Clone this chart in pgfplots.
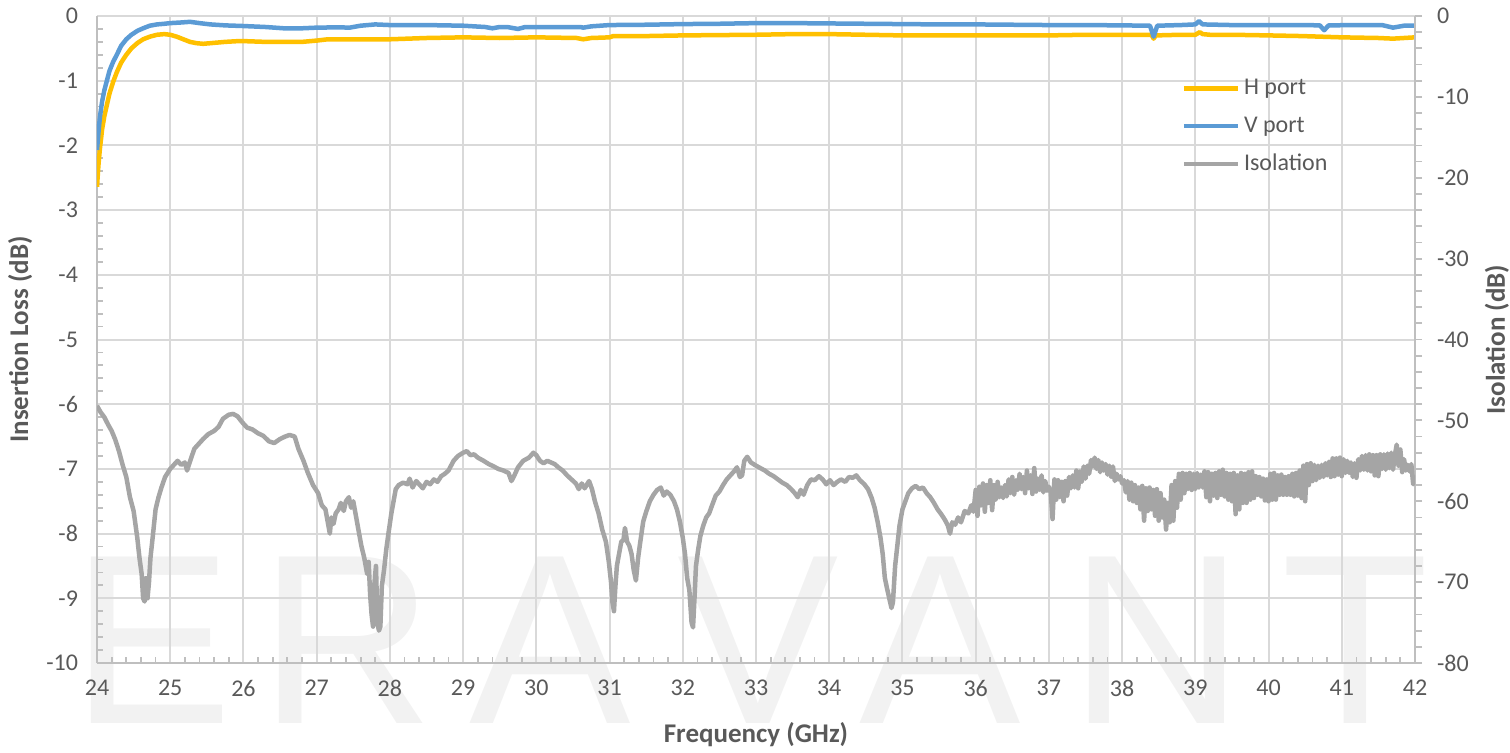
\documentclass[border=0pt]{standalone}
\usepackage{fontspec}
\setmainfont{Carlito}
\newfontfamily\wmfont{Liberation Sans}
\usepackage{pgfplots}
\pgfplotsset{compat=1.18}
\definecolor{hport}{HTML}{FFC000}
\definecolor{vport}{HTML}{5B9BD5}
\definecolor{iso}{HTML}{A5A5A5}
\definecolor{gridc}{HTML}{D9D9D9}
\definecolor{axc}{HTML}{BFBFBF}
\definecolor{txt}{HTML}{595959}
\definecolor{wm}{HTML}{F2F2F2}

\pgfplotstableread{
f v
24.00 -2.64
24.02 -2.30
24.04 -2.05
24.07 -1.75
24.10 -1.55
24.13 -1.40
24.17 -1.20
24.22 -1.02
24.27 -0.87
24.33 -0.72
24.40 -0.60
24.47 -0.50
24.55 -0.42
24.63 -0.36
24.72 -0.32
24.82 -0.29
24.92 -0.28
25.00 -0.29
25.09 -0.32
25.18 -0.36
25.27 -0.40
25.36 -0.42
25.45 -0.43
25.55 -0.42
25.65 -0.41
25.75 -0.40
25.90 -0.39
26.05 -0.39
26.30 -0.40
26.55 -0.40
26.80 -0.40
27.00 -0.38
27.15 -0.36
27.45 -0.36
27.80 -0.36
28.00 -0.36
28.50 -0.34
29.00 -0.33
29.50 -0.34
30.00 -0.33
30.55 -0.34
30.64 -0.36
30.75 -0.34
31.00 -0.33
31.05 -0.31
31.50 -0.31
32.00 -0.30
32.50 -0.295
33.00 -0.29
33.50 -0.28
34.00 -0.28
34.50 -0.29
35.00 -0.30
35.50 -0.30
36.00 -0.30
36.50 -0.30
37.00 -0.30
37.50 -0.29
38.00 -0.29
38.40 -0.29
38.43 -0.35
38.46 -0.30
38.80 -0.29
39.00 -0.29
39.06 -0.25
39.10 -0.28
39.20 -0.29
39.50 -0.29
40.00 -0.30
40.45 -0.31
41.00 -0.33
41.50 -0.34
41.70 -0.35
42.00 -0.33
}\hdata

\pgfplotstableread{
f v
24.00 -2.07
24.02 -1.80
24.04 -1.56
24.07 -1.32
24.10 -1.15
24.13 -1.02
24.17 -0.85
24.22 -0.71
24.27 -0.60
24.33 -0.46
24.40 -0.36
24.47 -0.29
24.55 -0.23
24.63 -0.19
24.72 -0.15
24.82 -0.13
24.92 -0.12
25.00 -0.11
25.15 -0.10
25.27 -0.09
25.40 -0.11
25.55 -0.13
25.75 -0.145
26.00 -0.155
26.30 -0.17
26.55 -0.19
26.80 -0.19
27.00 -0.18
27.30 -0.175
27.45 -0.18
27.60 -0.15
27.80 -0.13
28.00 -0.14
28.50 -0.14
29.00 -0.15
29.30 -0.17
29.40 -0.19
29.50 -0.17
29.60 -0.17
29.75 -0.20
29.85 -0.17
30.00 -0.17
30.60 -0.17
30.64 -0.18
30.75 -0.16
31.00 -0.14
31.50 -0.135
32.00 -0.125
32.50 -0.12
33.00 -0.11
33.50 -0.11
34.00 -0.115
34.50 -0.12
35.00 -0.125
35.50 -0.13
36.00 -0.13
36.50 -0.135
37.00 -0.14
37.50 -0.14
38.00 -0.145
38.38 -0.15
38.41 -0.25
38.43 -0.32
38.45 -0.25
38.48 -0.15
38.80 -0.14
39.00 -0.13
39.05 -0.08
39.10 -0.13
39.50 -0.14
40.00 -0.14
40.50 -0.14
40.70 -0.145
40.76 -0.22
40.82 -0.145
41.20 -0.14
41.55 -0.14
41.70 -0.18
41.85 -0.15
42.00 -0.15
}\vdata

\pgfplotstableread{
f v
24.00 -48.2
24.05 -49.0
24.10 -49.6
24.15 -50.5
24.20 -51.3
24.25 -52.4
24.30 -53.8
24.35 -55.5
24.40 -57.0
24.45 -59.5
24.50 -61.2
24.55 -64.5
24.58 -67.0
24.61 -69.0
24.63 -72.0
24.65 -72.4
24.67 -69.5
24.69 -72.0
24.71 -70.0
24.73 -67.0
24.76 -64.5
24.80 -61.0
24.84 -59.5
24.88 -58.3
24.93 -57.0
25.00 -56.0
25.05 -55.5
25.10 -55.0
25.15 -55.5
25.20 -55.2
25.23 -56.2
25.28 -54.8
25.33 -53.5
25.38 -53.0
25.45 -52.3
25.52 -51.7
25.60 -51.3
25.66 -50.8
25.72 -49.8
25.80 -49.3
25.86 -49.2
25.92 -49.5
25.98 -50.2
26.05 -50.9
26.12 -51.1
26.20 -51.6
26.27 -51.9
26.35 -52.6
26.42 -52.8
26.50 -52.3
26.57 -52.0
26.63 -51.8
26.70 -52.0
26.75 -53.5
26.82 -55.0
26.88 -56.5
26.95 -58.0
27.02 -59.0
27.07 -60.5
27.12 -61.0
27.15 -62.5
27.18 -64.0
27.20 -62.0
27.23 -62.8
27.26 -61.5
27.30 -61.0
27.33 -60.2
27.37 -61.2
27.40 -60.0
27.44 -59.5
27.47 -60.8
27.50 -60.0
27.53 -61.5
27.57 -63.5
27.61 -65.5
27.65 -67.0
27.69 -69.0
27.71 -67.5
27.73 -71.5
27.75 -74.0
27.77 -75.5
27.79 -70.0
27.81 -68.0
27.83 -75.0
27.85 -76.0
27.87 -75.5
27.89 -70.5
27.92 -68.5
27.95 -66.0
27.98 -64.0
28.02 -61.5
28.05 -60.0
28.08 -58.5
28.12 -58.0
28.18 -57.7
28.24 -57.9
28.27 -57.2
28.31 -58.3
28.36 -57.5
28.41 -58.0
28.45 -58.4
28.50 -57.6
28.55 -57.9
28.60 -57.3
28.65 -57.6
28.70 -56.9
28.75 -56.6
28.80 -56.2
28.87 -55.0
28.93 -54.4
29.00 -54.0
29.05 -53.8
29.10 -54.3
29.15 -54.2
29.20 -54.6
29.28 -55.0
29.35 -55.4
29.42 -55.7
29.48 -56.0
29.55 -56.2
29.62 -56.5
29.66 -57.5
29.70 -56.8
29.75 -55.8
29.82 -55.0
29.90 -54.6
29.96 -54.0
30.00 -54.3
30.05 -55.0
30.10 -55.3
30.15 -55.0
30.20 -55.2
30.25 -55.4
30.30 -55.8
30.36 -56.2
30.42 -56.8
30.48 -57.3
30.54 -57.8
30.58 -58.5
30.62 -57.8
30.66 -58.4
30.72 -57.5
30.76 -58.5
30.80 -60.0
30.85 -61.5
30.90 -63.5
30.95 -65.0
30.99 -67.5
31.02 -70.0
31.04 -72.5
31.06 -73.6
31.08 -70.5
31.10 -68.0
31.13 -66.5
31.16 -65.0
31.19 -64.8
31.21 -63.3
31.24 -65.0
31.27 -65.5
31.30 -66.5
31.33 -68.5
31.36 -69.8
31.39 -67.0
31.42 -65.0
31.46 -62.5
31.50 -61.3
31.55 -60.0
31.60 -59.2
31.65 -58.6
31.70 -58.3
31.74 -59.3
31.78 -58.8
31.83 -59.2
31.88 -60.0
31.92 -61.0
31.96 -62.5
32.00 -64.5
32.03 -66.5
32.06 -69.5
32.09 -71.0
32.12 -75.0
32.14 -75.6
32.16 -72.0
32.18 -68.0
32.21 -66.0
32.24 -64.3
32.28 -63.0
32.32 -62.0
32.36 -61.5
32.40 -60.5
32.45 -59.3
32.50 -58.8
32.55 -58.0
32.60 -57.3
32.65 -56.8
32.70 -56.3
32.74 -55.8
32.78 -57.0
32.81 -56.8
32.84 -55.0
32.88 -54.5
32.93 -55.2
33.00 -55.6
33.06 -55.9
33.12 -56.2
33.18 -56.6
33.24 -56.9
33.30 -57.3
33.36 -57.7
33.42 -58.0
33.48 -58.5
33.53 -59.0
33.57 -59.5
33.61 -58.6
33.65 -59.2
33.70 -58.0
33.75 -57.3
33.80 -57.4
33.86 -56.9
33.91 -57.3
33.96 -57.9
34.01 -57.4
34.06 -58.0
34.11 -57.6
34.16 -57.3
34.22 -57.6
34.27 -57.0
34.32 -57.1
34.37 -56.8
34.42 -57.4
34.48 -57.9
34.53 -58.5
34.58 -59.6
34.62 -60.8
34.66 -62.5
34.70 -64.5
34.73 -66.5
34.76 -69.5
34.79 -70.8
34.82 -72.0
34.85 -73.2
34.87 -72.5
34.90 -68.0
34.93 -65.5
34.96 -63.0
35.00 -61.0
35.04 -60.0
35.08 -59.0
35.13 -58.4
35.18 -58.1
35.23 -58.5
35.28 -58.3
35.33 -59.0
35.38 -59.5
35.43 -60.2
35.48 -61.0
35.53 -61.6
35.58 -62.3
35.62 -63.0
35.65 -64.0
35.68 -62.6
35.72 -62.9
35.76 -62.0
35.80 -62.6
35.85 -61.2
35.90 -61.5
35.94 -60.5
35.97 -61.3
36.000 -58.6
36.025 -61.8
36.050 -58.2
36.075 -60.5
36.100 -57.8
36.125 -61.3
36.150 -58.0
36.175 -60.2
36.200 -57.4
36.225 -61.1
36.250 -58.0
36.275 -59.8
36.300 -57.6
36.325 -59.5
36.350 -58.3
36.375 -59.6
36.400 -58.0
36.425 -59.4
36.450 -57.3
36.475 -59.0
36.500 -57.0
36.525 -59.2
36.550 -57.4
36.575 -58.6
36.600 -56.6
36.625 -58.5
36.650 -57.0
36.675 -59.0
36.700 -56.2
36.725 -58.4
36.750 -56.8
36.775 -59.1
36.800 -55.9
36.825 -58.8
36.850 -57.2
36.875 -58.6
36.900 -56.8
36.925 -58.9
36.950 -57.5
36.975 -58.7
37.000 -58.2
37.025 -58.9
37.050 -62.2
37.075 -57.3
37.100 -59.8
37.125 -57.4
37.150 -59.5
37.175 -57.6
37.200 -60.0
37.225 -57.5
37.250 -59.3
37.275 -57.0
37.300 -58.4
37.325 -56.8
37.350 -58.3
37.375 -56.2
37.400 -58.4
37.425 -56.3
37.450 -57.6
37.475 -55.7
37.500 -57.2
37.525 -55.6
37.550 -56.6
37.575 -54.9
37.600 -55.7
37.625 -54.6
37.650 -56.0
37.675 -54.9
37.700 -56.4
37.725 -55.2
37.750 -56.2
37.775 -55.4
37.800 -56.7
37.825 -55.6
37.850 -57.0
37.875 -55.7
37.900 -57.5
37.925 -56.6
37.950 -57.3
37.975 -56.9
38.000 -57.8
38.025 -57.4
38.050 -58.9
38.075 -57.5
38.100 -59.8
38.125 -57.7
38.150 -60.0
38.175 -58.0
38.200 -60.2
38.225 -58.3
38.250 -61.0
38.275 -58.1
38.300 -62.4
38.325 -58.4
38.350 -61.2
38.375 -58.3
38.400 -61.0
38.425 -58.6
38.450 -61.8
38.475 -58.5
38.500 -62.4
38.525 -59.0
38.550 -62.0
38.575 -59.8
38.600 -63.5
38.625 -60.2
38.650 -62.6
38.675 -58.0
38.700 -62.4
38.725 -57.5
38.750 -60.8
38.775 -56.6
38.800 -59.8
38.825 -56.5
38.850 -59.0
38.875 -56.6
38.900 -58.5
38.925 -56.5
38.950 -58.6
38.975 -56.6
39.000 -58.5
39.025 -56.5
39.050 -58.3
39.075 -56.7
39.100 -58.3
39.125 -56.3
39.150 -59.5
39.175 -56.4
39.200 -60.0
39.225 -56.6
39.250 -59.3
39.275 -56.5
39.300 -59.6
39.325 -56.3
39.350 -59.2
39.375 -56.1
39.400 -59.4
39.425 -56.5
39.450 -59.8
39.475 -56.6
39.500 -60.0
39.525 -56.5
39.550 -61.6
39.575 -56.8
39.600 -61.0
39.625 -56.5
39.650 -60.2
39.675 -56.6
39.700 -60.2
39.725 -56.4
39.750 -59.8
39.775 -56.3
39.800 -59.6
39.825 -56.9
39.850 -59.2
39.875 -57.0
39.900 -59.4
39.925 -57.2
39.950 -59.9
39.975 -57.3
40.000 -60.0
40.025 -56.6
40.050 -59.8
40.075 -56.5
40.100 -59.8
40.125 -56.8
40.150 -59.2
40.175 -56.7
40.200 -59.2
40.225 -57.0
40.250 -59.2
40.275 -56.9
40.300 -59.2
40.325 -56.6
40.350 -59.4
40.375 -56.5
40.400 -59.3
40.425 -56.2
40.450 -59.6
40.475 -55.6
40.500 -60.0
40.525 -55.4
40.550 -58.0
40.575 -55.3
40.600 -57.5
40.625 -55.5
40.650 -57.4
40.675 -55.6
40.700 -57.1
40.725 -55.5
40.750 -57.0
40.775 -55.3
40.800 -56.8
40.825 -55.1
40.850 -57.0
40.875 -54.7
40.900 -56.9
40.925 -54.7
40.950 -56.7
40.975 -54.6
41.000 -56.9
41.025 -54.8
41.050 -56.5
41.075 -55.0
41.100 -56.5
41.125 -55.2
41.150 -57.0
41.175 -55.3
41.200 -57.1
41.225 -54.8
41.250 -56.2
41.275 -54.4
41.300 -56.1
41.325 -54.3
41.350 -56.2
41.375 -54.2
41.400 -56.3
41.425 -54.3
41.450 -56.8
41.475 -54.3
41.500 -56.9
41.525 -54.2
41.550 -56.0
41.575 -54.2
41.600 -56.1
41.625 -54.1
41.650 -55.9
41.675 -54.0
41.700 -56.1
41.725 -54.3
41.750 -53.0
41.775 -55.6
41.800 -53.6
41.825 -56.4
41.850 -54.8
41.875 -56.2
41.900 -55.5
41.925 -56.3
41.950 -55.4
41.975 -57.9
42.000 -56.8
}\isodata

\pgfplotsset{
  common/.style={
    scale only axis, width=659pt, height=323.5pt,
    xmin=24, xmax=42,
    /pgf/number format/assume math mode=true,
    ticklabel style={font=\fontsize{12}{14}\selectfont, text=txt},
    label style={font=\bfseries\fontsize{13.5}{16}\selectfont, text=txt},
    axis line style={axc, line width=1pt},
    tick style={axc, line width=0.9pt},
  },
}

\begin{document}
\begin{tikzpicture}
% watermark
\foreach \x/\l in {27.5/E, 125/R, 226.5/A, 330.5/V, 421.5/A, 530/N, 629/T}{
  \node[anchor=base, inner sep=0pt, text=wm, font=\wmfont\fontsize{121}{121}\selectfont] at (\x pt,-30pt) {\l};
}
\begin{axis}[common,
  ymin=-10, ymax=0,
  xtick={24,25,...,42}, ytick={-10,-9,...,0},
  minor x tick num=4, minor y tick num=4,
  xmajorgrids, ymajorgrids,
  grid style={gridc, line width=1pt},
  axis x line*=bottom, axis y line*=left,
  tick align=inside,
  major tick length=0pt, minor tick length=3pt,
  xticklabel style={yshift=-5pt},
  yticklabel style={xshift=-6pt},
  xlabel={Frequency (GHz)},
  ylabel={Insertion Loss (dB)},
  xlabel style={at={(axis description cs:0.5,-0.111)}, anchor=center},
  ylabel style={at={(axis description cs:-0.0584,0.5)}, anchor=center},
]
\addplot[hport, line width=2.25pt, line join=round] table[x=f, y=v] {\hdata};
\addplot[vport, line width=2.25pt, line join=round] table[x=f, y=v] {\vdata};
\end{axis}
\begin{axis}[common,
  ymin=-80, ymax=0,
  ytick={-80,-70,...,0}, minor y tick num=4,
  axis x line=none, axis y line*=right,
  tick align=outside,
  major tick length=3.5pt, minor tick length=3.5pt,
  yticklabel style={xshift=4pt},
  ylabel={Isolation (dB)},
  ylabel style={at={(axis description cs:1.0622,0.5)}, anchor=center, rotate=0},
  legend style={at={(axis description cs:0.818,0.915)}, anchor=north west,
    draw=none, fill=none, font=\fontsize{12}{14}\selectfont, text=txt,
    row sep=5.5pt, nodes={inner sep=2pt}},
  legend cell align=left,
  legend image code/.code={\draw[#1] (0pt,0pt) -- (27pt,0pt);},
]
\addlegendimage{hport, line width=2.25pt}
\addlegendentry{H port}
\addlegendimage{vport, line width=2.25pt}
\addlegendentry{V port}
\addplot[iso, line width=2.25pt, line join=round] table[x=f, y=v] {\isodata};
\addlegendentry{Isolation}
\end{axis}
\pgfresetboundingbox
\path (-48.5pt,-44.5pt) rectangle (706.5pt,331.5pt);
\end{tikzpicture}
\end{document}
